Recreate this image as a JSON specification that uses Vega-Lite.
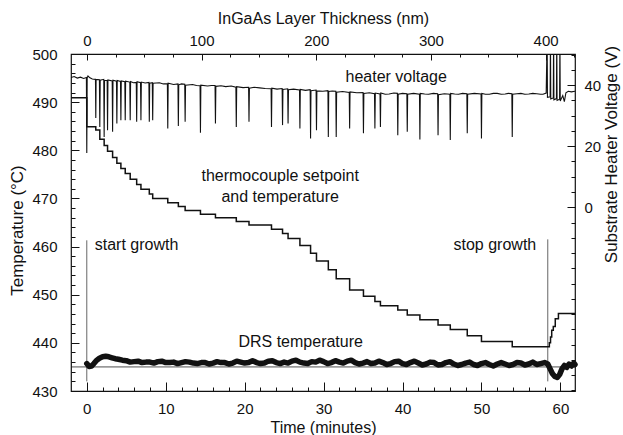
{
  "$schema": "https://vega.github.io/schema/vega-lite/v6.json",
  "width": 504,
  "height": 337,
  "autosize": {"type": "none"},
  "padding": {"left": 71, "top": 54, "right": 48, "bottom": 44},
  "background": "white",
  "config": {
    "font": "Liberation Sans",
    "view": {"stroke": "#111", "strokeWidth": 1.2},
    "axis": {"domain": false, "grid": false, "labelFont": "Liberation Sans", "titleFont": "Liberation Sans", "labelFontSize": 15, "titleFontSize": 16, "titleFontWeight": "normal", "labelColor": "#111", "titleColor": "#111", "tickColor": "#111", "tickWidth": 1, "labelFlush": false, "labelOverlap": false}
  },
  "datasets": {
    "setpt": [{"t": -2, "T": 435.0}, {"t": 61.85, "T": 435.0}],
    "growth": [{"t": 0, "T": 432.0, "T2": 461.3}, {"t": 58.4, "T": 432.0, "T2": 461.5}],
    "tc": [
      {"t": -2, "T": 490.9}, {"t": 0, "T": 484.9}, {"t": 1.14, "T": 484.2}, {"t": 1.65, "T": 482.3}, {"t": 2.2, "T": 481.0},
      {"t": 2.63, "T": 479.8}, {"t": 3.27, "T": 478.5}, {"t": 3.81, "T": 477.3}, {"t": 4.32, "T": 476.2}, {"t": 4.87, "T": 475.2},
      {"t": 5.5, "T": 474.0}, {"t": 6.32, "T": 472.9}, {"t": 6.86, "T": 471.9}, {"t": 7.92, "T": 470.9}, {"t": 8.35, "T": 470.0},
      {"t": 10.26, "T": 469.1}, {"t": 11.6, "T": 468.3}, {"t": 12.46, "T": 467.5}, {"t": 14.4, "T": 466.7}, {"t": 16.3, "T": 466.0},
      {"t": 18.94, "T": 465.2}, {"t": 20.55, "T": 464.5}, {"t": 23.4, "T": 463.6}, {"t": 24.8, "T": 462.7}, {"t": 25.5, "T": 461.7},
      {"t": 27.0, "T": 460.2}, {"t": 28.35, "T": 458.6}, {"t": 29.1, "T": 457.0}, {"t": 30.6, "T": 455.2}, {"t": 31.6, "T": 453.3},
      {"t": 33.3, "T": 451.0}, {"t": 35.05, "T": 449.7}, {"t": 36.5, "T": 448.6}, {"t": 37.2, "T": 447.7}, {"t": 39.4, "T": 446.8},
      {"t": 40.6, "T": 445.8}, {"t": 42.2, "T": 444.8}, {"t": 44.5, "T": 443.7}, {"t": 46.05, "T": 442.8}, {"t": 48.2, "T": 441.5},
      {"t": 50.0, "T": 440.3}, {"t": 53.9, "T": 439.2}, {"t": 58.6, "T": 440.0}, {"t": 58.75, "T": 441.2}, {"t": 58.9, "T": 442.6},
      {"t": 59.1, "T": 443.4}, {"t": 59.35, "T": 445.0}, {"t": 59.75, "T": 446.1}, {"t": 61.85, "T": 446.1}
    ],
    "drs": [
      {"t": 0.0, "T": 435.7}, {"t": 0.3, "T": 435.1}, {"t": 0.6, "T": 435.2}, {"t": 0.9, "T": 435.7}, {"t": 1.2, "T": 436.3},
      {"t": 1.6, "T": 436.8}, {"t": 2.0, "T": 437.1}, {"t": 2.4, "T": 437.2}, {"t": 2.8, "T": 437.1}, {"t": 3.2, "T": 436.9},
      {"t": 3.6, "T": 436.7}, {"t": 4.0, "T": 436.6}, {"t": 4.5, "T": 436.4}, {"t": 5.0, "T": 436.3}, {"t": 5.5, "T": 436.0},
      {"t": 6.0, "T": 436.1}, {"t": 6.5, "T": 436.2}, {"t": 7.0, "T": 435.9}, {"t": 7.5, "T": 436.0}, {"t": 8.0, "T": 436.0},
      {"t": 8.5, "T": 435.8}, {"t": 9.0, "T": 436.1}, {"t": 9.5, "T": 436.2}, {"t": 10.0, "T": 435.9}, {"t": 10.5, "T": 435.9},
      {"t": 11.0, "T": 436.0}, {"t": 11.5, "T": 435.7}, {"t": 12.0, "T": 435.9}, {"t": 12.5, "T": 436.1}, {"t": 13.0, "T": 436.0},
      {"t": 13.5, "T": 435.8}, {"t": 14.0, "T": 435.7}, {"t": 14.5, "T": 435.9}, {"t": 15.0, "T": 435.9}, {"t": 15.5, "T": 435.6},
      {"t": 16.0, "T": 435.8}, {"t": 16.5, "T": 436.1}, {"t": 17.0, "T": 435.9}, {"t": 17.5, "T": 435.9}, {"t": 18.0, "T": 435.6},
      {"t": 18.5, "T": 435.8}, {"t": 19.0, "T": 436.2}, {"t": 19.5, "T": 436.0}, {"t": 20.0, "T": 435.8}, {"t": 20.5, "T": 435.9},
      {"t": 21.0, "T": 436.3}, {"t": 21.5, "T": 435.9}, {"t": 22.0, "T": 435.7}, {"t": 22.5, "T": 435.8}, {"t": 23.0, "T": 436.2},
      {"t": 23.5, "T": 436.3}, {"t": 24.0, "T": 435.9}, {"t": 24.5, "T": 435.7}, {"t": 25.0, "T": 436.0}, {"t": 25.5, "T": 435.8},
      {"t": 26.0, "T": 436.2}, {"t": 26.5, "T": 436.4}, {"t": 27.0, "T": 436.0}, {"t": 27.5, "T": 435.8}, {"t": 28.0, "T": 435.7},
      {"t": 28.5, "T": 436.1}, {"t": 29.0, "T": 436.0}, {"t": 29.5, "T": 436.4}, {"t": 30.0, "T": 436.1}, {"t": 30.5, "T": 435.7},
      {"t": 31.0, "T": 435.9}, {"t": 31.5, "T": 436.3}, {"t": 32.0, "T": 436.0}, {"t": 32.5, "T": 435.8}, {"t": 33.0, "T": 436.2},
      {"t": 33.5, "T": 436.4}, {"t": 34.0, "T": 435.9}, {"t": 34.5, "T": 435.6}, {"t": 35.0, "T": 435.8}, {"t": 35.5, "T": 436.1},
      {"t": 36.0, "T": 435.7}, {"t": 36.5, "T": 435.8}, {"t": 37.0, "T": 436.2}, {"t": 37.5, "T": 435.9}, {"t": 38.0, "T": 435.5},
      {"t": 38.5, "T": 435.7}, {"t": 39.0, "T": 436.1}, {"t": 39.5, "T": 436.2}, {"t": 40.0, "T": 435.7}, {"t": 40.5, "T": 435.5},
      {"t": 41.0, "T": 435.9}, {"t": 41.5, "T": 436.2}, {"t": 42.0, "T": 435.8}, {"t": 42.5, "T": 435.4}, {"t": 43.0, "T": 435.6},
      {"t": 43.5, "T": 436.0}, {"t": 44.0, "T": 435.9}, {"t": 44.5, "T": 435.4}, {"t": 45.0, "T": 435.5}, {"t": 45.5, "T": 435.9},
      {"t": 46.0, "T": 436.1}, {"t": 46.5, "T": 435.6}, {"t": 47.0, "T": 435.3}, {"t": 47.5, "T": 435.5}, {"t": 48.0, "T": 435.8},
      {"t": 48.5, "T": 436.0}, {"t": 49.0, "T": 435.5}, {"t": 49.5, "T": 435.3}, {"t": 50.0, "T": 435.7}, {"t": 50.5, "T": 435.9},
      {"t": 51.0, "T": 435.5}, {"t": 51.5, "T": 435.2}, {"t": 52.0, "T": 435.6}, {"t": 52.5, "T": 435.9}, {"t": 53.0, "T": 435.6},
      {"t": 53.5, "T": 435.3}, {"t": 54.0, "T": 435.5}, {"t": 54.5, "T": 435.9}, {"t": 55.0, "T": 435.8}, {"t": 55.5, "T": 435.4},
      {"t": 56.0, "T": 435.6}, {"t": 56.5, "T": 436.0}, {"t": 57.0, "T": 435.5}, {"t": 57.5, "T": 435.7}, {"t": 58.0, "T": 435.9},
      {"t": 58.4, "T": 435.6}, {"t": 58.7, "T": 434.6}, {"t": 59.0, "T": 433.6}, {"t": 59.3, "T": 433.0}, {"t": 59.6, "T": 432.8},
      {"t": 59.9, "T": 433.4}, {"t": 60.2, "T": 434.6}, {"t": 60.5, "T": 435.3}, {"t": 60.8, "T": 434.9}, {"t": 61.1, "T": 435.6},
      {"t": 61.4, "T": 435.2}, {"t": 61.7, "T": 435.8}, {"t": 61.85, "T": 435.5}
    ],
    "labels": [
      {"t": 39.2, "T": 495.3, "label": "heater voltage"},
      {"t": 24.5, "T": 474.6, "label": "thermocouple setpoint"},
      {"t": 24.5, "T": 470.3, "label": "and temperature"},
      {"t": 6.3, "T": 460.4, "label": "start growth"},
      {"t": 51.7, "T": 460.4, "label": "stop growth"},
      {"t": 27.1, "T": 440.1, "label": "DRS temperature"}
    ],
    "heater": [
      {"t": -2.0, "v": 42.5}, {"t": -1.6, "v": 42.8}, {"t": -1.2, "v": 42.3}, {"t": -0.8, "v": 42.6}, {"t": -0.4, "v": 42.2},
      {"t": -0.05, "v": 42.5}, {"t": 0.0, "v": 17.8}, {"t": 0.05, "v": 42.4}, {"t": 0.15, "v": 43.0}, {"t": 0.4, "v": 42.4},
      {"t": 0.7, "v": 42.0}, {"t": 1.1, "v": 41.9}, {"t": 1.14, "v": 29.2}, {"t": 1.18, "v": 41.9}, {"t": 1.6, "v": 41.8},
      {"t": 1.65, "v": 26.3}, {"t": 1.7, "v": 41.6}, {"t": 2.15, "v": 41.9}, {"t": 2.2, "v": 23.0}, {"t": 2.25, "v": 41.6},
      {"t": 2.58, "v": 41.5}, {"t": 2.63, "v": 25.2}, {"t": 2.68, "v": 41.7}, {"t": 3.22, "v": 41.4}, {"t": 3.27, "v": 24.7},
      {"t": 3.32, "v": 41.6}, {"t": 3.76, "v": 41.3}, {"t": 3.81, "v": 27.4}, {"t": 3.86, "v": 41.5}, {"t": 4.27, "v": 41.2},
      {"t": 4.32, "v": 28.5}, {"t": 4.37, "v": 41.4}, {"t": 4.82, "v": 41.1}, {"t": 4.87, "v": 28.5}, {"t": 4.92, "v": 41.3},
      {"t": 5.45, "v": 41.0}, {"t": 5.5, "v": 28.5}, {"t": 5.55, "v": 41.2}, {"t": 5.9, "v": 40.8}, {"t": 6.27, "v": 40.9},
      {"t": 6.32, "v": 28.0}, {"t": 6.37, "v": 41.1}, {"t": 6.81, "v": 40.8}, {"t": 6.86, "v": 28.5}, {"t": 6.91, "v": 41.0},
      {"t": 7.4, "v": 40.7}, {"t": 7.87, "v": 40.9}, {"t": 7.92, "v": 28.0}, {"t": 7.97, "v": 40.6}, {"t": 8.3, "v": 40.8},
      {"t": 8.35, "v": 28.5}, {"t": 8.4, "v": 40.6}, {"t": 9.2, "v": 40.8}, {"t": 9.7, "v": 40.4}, {"t": 10.21, "v": 40.4},
      {"t": 10.26, "v": 25.8}, {"t": 10.31, "v": 40.6}, {"t": 11.0, "v": 40.2}, {"t": 11.55, "v": 40.4}, {"t": 11.6, "v": 26.6},
      {"t": 11.65, "v": 40.1}, {"t": 12.0, "v": 40.4}, {"t": 12.41, "v": 40.3}, {"t": 12.46, "v": 28.0}, {"t": 12.51, "v": 40.0},
      {"t": 13.4, "v": 40.2}, {"t": 13.9, "v": 39.9}, {"t": 14.35, "v": 39.8}, {"t": 14.4, "v": 24.4}, {"t": 14.45, "v": 40.0},
      {"t": 15.3, "v": 39.7}, {"t": 15.8, "v": 39.9}, {"t": 16.25, "v": 39.9}, {"t": 16.3, "v": 27.4}, {"t": 16.35, "v": 39.6},
      {"t": 17.0, "v": 39.8}, {"t": 17.6, "v": 39.5}, {"t": 18.3, "v": 39.7}, {"t": 18.89, "v": 39.3}, {"t": 18.94, "v": 26.3},
      {"t": 18.99, "v": 39.5}, {"t": 19.8, "v": 39.2}, {"t": 20.5, "v": 39.3}, {"t": 20.55, "v": 28.0}, {"t": 20.6, "v": 39.0},
      {"t": 21.2, "v": 39.3}, {"t": 21.9, "v": 39.1}, {"t": 22.6, "v": 38.9}, {"t": 23.35, "v": 38.8}, {"t": 23.4, "v": 26.3},
      {"t": 23.45, "v": 39.0}, {"t": 24.1, "v": 38.7}, {"t": 24.75, "v": 38.9}, {"t": 24.8, "v": 26.9}, {"t": 24.85, "v": 38.6},
      {"t": 25.45, "v": 38.8}, {"t": 25.5, "v": 27.4}, {"t": 25.55, "v": 38.5}, {"t": 26.2, "v": 38.7}, {"t": 26.95, "v": 38.4},
      {"t": 27.0, "v": 25.8}, {"t": 27.05, "v": 38.6}, {"t": 27.7, "v": 38.3}, {"t": 28.3, "v": 38.5}, {"t": 28.35, "v": 22.5},
      {"t": 28.4, "v": 38.2}, {"t": 29.05, "v": 38.4}, {"t": 29.1, "v": 25.2}, {"t": 29.15, "v": 38.1}, {"t": 29.9, "v": 38.0},
      {"t": 30.55, "v": 38.2}, {"t": 30.6, "v": 23.0}, {"t": 30.65, "v": 37.9}, {"t": 31.1, "v": 38.1}, {"t": 31.55, "v": 38.0},
      {"t": 31.6, "v": 23.0}, {"t": 31.65, "v": 37.7}, {"t": 32.4, "v": 37.9}, {"t": 33.25, "v": 37.6}, {"t": 33.3, "v": 25.8},
      {"t": 33.35, "v": 37.8}, {"t": 34.2, "v": 37.5}, {"t": 35.0, "v": 37.6}, {"t": 35.05, "v": 24.2}, {"t": 35.1, "v": 37.3},
      {"t": 35.8, "v": 37.5}, {"t": 36.45, "v": 37.2}, {"t": 36.5, "v": 25.8}, {"t": 36.55, "v": 37.4}, {"t": 37.15, "v": 37.1},
      {"t": 37.2, "v": 26.3}, {"t": 37.25, "v": 37.4}, {"t": 37.8, "v": 37.0}, {"t": 38.3, "v": 37.1}, {"t": 38.9, "v": 37.4},
      {"t": 39.35, "v": 37.3}, {"t": 39.4, "v": 23.6}, {"t": 39.45, "v": 37.0}, {"t": 40.0, "v": 37.3}, {"t": 40.55, "v": 37.2},
      {"t": 40.6, "v": 24.7}, {"t": 40.65, "v": 37.0}, {"t": 41.4, "v": 37.3}, {"t": 42.15, "v": 37.0}, {"t": 42.2, "v": 22.2},
      {"t": 42.25, "v": 37.3}, {"t": 42.8, "v": 37.1}, {"t": 43.3, "v": 37.0}, {"t": 43.9, "v": 37.3}, {"t": 44.45, "v": 37.2},
      {"t": 44.5, "v": 23.6}, {"t": 44.55, "v": 36.9}, {"t": 45.3, "v": 37.2}, {"t": 46.0, "v": 37.0}, {"t": 46.05, "v": 22.0},
      {"t": 46.1, "v": 37.3}, {"t": 46.6, "v": 37.1}, {"t": 47.1, "v": 37.0}, {"t": 47.6, "v": 37.3}, {"t": 48.15, "v": 37.2},
      {"t": 48.2, "v": 24.2}, {"t": 48.25, "v": 37.0}, {"t": 49.1, "v": 37.3}, {"t": 49.95, "v": 37.1}, {"t": 50.0, "v": 22.5},
      {"t": 50.05, "v": 37.3}, {"t": 50.5, "v": 37.0}, {"t": 51.0, "v": 37.0}, {"t": 51.5, "v": 37.3}, {"t": 52.0, "v": 37.3},
      {"t": 52.5, "v": 37.0}, {"t": 53.0, "v": 37.1}, {"t": 53.4, "v": 37.3}, {"t": 53.85, "v": 37.2}, {"t": 53.9, "v": 23.0},
      {"t": 53.95, "v": 37.0}, {"t": 54.5, "v": 37.2}, {"t": 55.0, "v": 37.3}, {"t": 55.5, "v": 37.0}, {"t": 56.0, "v": 37.1},
      {"t": 56.5, "v": 37.3}, {"t": 57.0, "v": 37.2}, {"t": 57.5, "v": 37.0}, {"t": 57.8, "v": 37.0}, {"t": 58.2, "v": 37.4},
      {"t": 58.32, "v": 56}, {"t": 58.36, "v": 36.0}, {"t": 58.7, "v": 36.2}, {"t": 58.74, "v": 56}, {"t": 58.78, "v": 35.5},
      {"t": 59.1, "v": 35.8}, {"t": 59.14, "v": 56}, {"t": 59.18, "v": 35.2}, {"t": 59.5, "v": 35.6}, {"t": 59.54, "v": 56},
      {"t": 59.58, "v": 35.0}, {"t": 59.9, "v": 35.4}, {"t": 59.94, "v": 56}, {"t": 59.98, "v": 34.8}, {"t": 60.3, "v": 36.6},
      {"t": 60.5, "v": 34.6}, {"t": 60.7, "v": 37.5}, {"t": 61.0, "v": 38.0}, {"t": 61.4, "v": 37.8}, {"t": 61.85, "v": 38.0}
    ]
  },
  "layer": [
    {
      "encoding": {
        "x": {"field": "t", "type": "quantitative", "scale": {"domain": [-2, 61.85], "nice": false, "zero": false},
          "axis": {"orient": "bottom", "offset": 0, "values": [0, 10, 20, 30, 40, 50, 60], "tickSize": -9, "labelPadding": 19, "title": "Time (minutes)", "titlePadding": 3}},
        "y": {"field": "T", "type": "quantitative", "scale": {"domain": [430, 500], "nice": false, "zero": false},
          "axis": {"orient": "left", "offset": 0, "values": [430, 440, 450, 460, 470, 480, 490, 500], "tickSize": -8, "labelPadding": 22, "title": "Temperature (°C)", "titleFontSize": 17, "titleX": -54, "titleY": 176, "titleBaseline": "middle", "titleAlign": "center", "titleAngle": 270}}
      },
      "layer": [
        {"data": {"name": "setpt"}, "mark": {"type": "line", "color": "#222", "strokeWidth": 0.8}},
        {"data": {"name": "growth"}, "mark": {"type": "rule", "color": "#666", "strokeWidth": 1}, "encoding": {"y2": {"field": "T2"}}},
        {"data": {"name": "tc"}, "mark": {"type": "line", "interpolate": "step-after", "color": "#111", "strokeWidth": 1.5}},
        {"data": {"name": "drs"}, "mark": {"type": "line", "color": "#111", "strokeWidth": 5.5, "strokeJoin": "round", "strokeCap": "round"}},
        {"data": {"name": "labels"}, "mark": {"type": "text", "fontSize": 16, "font": "Liberation Sans", "color": "#111", "align": "center", "baseline": "middle"}, "encoding": {"text": {"field": "label"}}}
      ]
    },
    {
      "data": {"name": "heater"},
      "mark": {"type": "line", "color": "#111", "strokeWidth": 1.1, "clip": true},
      "encoding": {
        "x": {"field": "t", "type": "quantitative", "scale": {"domain": [-2, 61.85], "nice": false, "zero": false},
          "axis": {"orient": "bottom", "offset": 0, "values": [2, 4, 6, 8, 12, 14, 16, 18, 22, 24, 26, 28, 32, 34, 36, 38, 42, 44, 46, 48, 52, 54, 56, 58], "tickSize": -4, "labels": false, "title": null}},
        "y": {"field": "v", "type": "quantitative", "scale": {"domain": [-60.2, 50.2], "nice": false, "zero": false},
          "axis": {"orient": "right", "offset": 0, "values": [0, 20, 40], "tickSize": -8, "labelPadding": 17, "title": "Substrate Heater Voltage (V)", "titleFontSize": 17, "titleAngle": 270, "titleX": 36.5, "titleY": 100, "titleBaseline": "middle", "titleAlign": "center"}}
      }
    },
    {
      "data": {"values": [{"n": 0, "T": 430}]},
      "mark": {"type": "point", "opacity": 0},
      "encoding": {
        "x": {"field": "n", "type": "quantitative", "scale": {"domain": [-13.8, 425.6], "nice": false, "zero": false},
          "axis": {"orient": "top", "offset": 0, "values": [0, 100, 200, 300, 400], "tickSize": -6, "labelPadding": 12, "title": "InGaAs Layer Thickness (nm)", "titleY": -36, "titleBaseline": "middle"}},
        "y": {"field": "T", "type": "quantitative", "scale": {"domain": [430, 500], "nice": false, "zero": false},
          "axis": {"orient": "left", "offset": 0, "values": [432, 434, 436, 438, 442, 444, 446, 448, 452, 454, 456, 458, 462, 464, 466, 468, 472, 474, 476, 478, 482, 484, 486, 488, 492, 494, 496, 498], "tickSize": -4, "labels": false, "title": null}}
      }
    },
    {
      "data": {"values": [{"n": 0, "v": 0}]},
      "mark": {"type": "point", "opacity": 0},
      "encoding": {
        "x": {"field": "n", "type": "quantitative", "scale": {"domain": [-13.8, 425.6], "nice": false, "zero": false},
          "axis": {"orient": "top", "offset": 0, "values": [25, 50, 75, 125, 150, 175, 225, 250, 275, 325, 350, 375, 425], "tickSize": -3, "labels": false, "title": null}},
        "y": {"field": "v", "type": "quantitative", "scale": {"domain": [-60.2, 50.2], "nice": false, "zero": false},
          "axis": {"orient": "right", "offset": 0, "values": [-60, -55, -50, -45, -40, -35, -30, -25, -20, -15, -10, -5, 5, 10, 15, 25, 30, 35, 45, 50], "tickSize": -4, "labels": false, "title": null}}
      }
    }
  ],
  "resolve": {"scale": {"x": "independent", "y": "independent"}, "axis": {"x": "independent", "y": "independent"}}
}
